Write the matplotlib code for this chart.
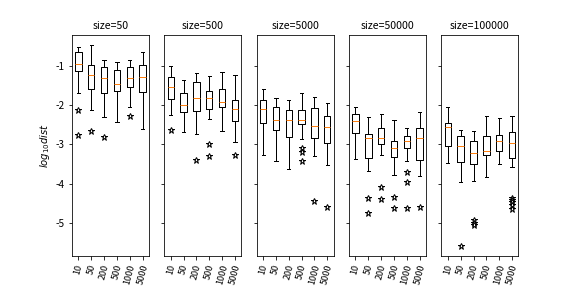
import matplotlib
matplotlib.use("Agg")
import matplotlib.pyplot as plt

plt.rcParams['font.family'] = ['Noto Sans CJK SC', 'DejaVu Sans']
plt.rcParams['axes.unicode_minus'] = False

sizes = ["size=50", "size=500", "size=5000", "size=50000", "size=100000"]
tick_labels = ["10", "50", "200", "500", "1000", "5000"]

# per panel: whisker high, q3, median, q1, whisker low, fliers
whishi_50 = [-0.51, -0.46, -0.84, -0.91, -0.85, -0.65]
q3_50 = [-0.64, -0.97, -1.03, -1.11, -1.03, -0.97]
med_50 = [-0.96, -1.22, -1.32, -1.45, -1.32, -1.28]
q1_50 = [-1.14, -1.58, -1.70, -1.63, -1.53, -1.66]
whislo_50 = [-1.68, -2.12, -2.30, -2.42, -2.04, -2.61]
fliers_50 = [[-2.12, -2.77], [-2.66], [-2.80], [], [-2.27], []]

whishi_500 = [-1.01, -1.37, -1.19, -1.26, -1.16, -1.22]
q3_500 = [-1.29, -1.68, -1.40, -1.63, -1.58, -1.86]
med_500 = [-1.55, -1.99, -1.81, -1.81, -1.91, -2.09]
q1_500 = [-1.84, -2.17, -2.15, -2.09, -2.04, -2.40]
whislo_500 = [-2.25, -2.68, -2.74, -2.35, -2.66, -2.94]
fliers_500 = [[-2.63], [], [-3.40], [-2.99, -3.30], [], [-3.28]]

whishi_5000 = [-1.59, -1.81, -1.86, -1.68, -1.78, -1.95]
q3_5000 = [-1.86, -2.04, -2.12, -2.12, -2.07, -2.28]
med_5000 = [-2.09, -2.38, -2.38, -2.38, -2.53, -2.56]
q1_5000 = [-2.46, -2.64, -2.82, -2.48, -2.84, -2.97]
whislo_5000 = [-3.26, -3.41, -3.62, -2.87, -3.29, -3.52]
fliers_5000 = [[], [], [], [-3.08, -3.18, -3.41], [-4.45], [-4.60]]

whishi_50000 = [-2.04, -2.30, -2.22, -2.38, -2.59, -2.17]
q3_50000 = [-2.22, -2.74, -2.59, -2.90, -2.79, -2.59]
med_50000 = [-2.40, -2.84, -2.84, -3.10, -2.90, -2.84]
q1_50000 = [-2.72, -3.34, -3.00, -3.31, -3.10, -3.39]
whislo_50000 = [-3.36, -3.67, -3.28, -3.78, -3.41, -3.80]
fliers_50000 = [[], [-4.35, -4.75], [-4.08, -4.39], [-4.34, -4.61],
                [-3.69, -3.95, -4.61], [-4.58]]

whishi_100000 = [-2.04, -2.64, -2.66, -2.28, -2.33, -2.28]
q3_100000 = [-2.46, -2.79, -2.92, -2.79, -2.77, -2.69]
med_100000 = [-2.56, -3.05, -3.21, -3.16, -2.92, -2.97]
q1_100000 = [-3.05, -3.44, -3.49, -3.28, -3.16, -3.34]
whislo_100000 = [-3.47, -3.96, -3.93, -3.82, -3.49, -3.57]
fliers_100000 = [[], [-5.59], [-4.93, -4.99, -5.05], [], [],
                 [-4.36, -4.42, -4.47, -4.54, -4.63]]

panels = [
    (whishi_50, q3_50, med_50, q1_50, whislo_50, fliers_50),
    (whishi_500, q3_500, med_500, q1_500, whislo_500, fliers_500),
    (whishi_5000, q3_5000, med_5000, q1_5000, whislo_5000, fliers_5000),
    (whishi_50000, q3_50000, med_50000, q1_50000, whislo_50000, fliers_50000),
    (whishi_100000, q3_100000, med_100000, q1_100000, whislo_100000, fliers_100000),
]

fig, axes = plt.subplots(1, 5, figsize=(8, 4), dpi=72, sharey=True)
for ax, title, (hi, q3, med, q1, lo, fl) in zip(axes, sizes, panels):
    stats = []
    for i in range(len(tick_labels)):
        stats.append(dict(whishi=hi[i], q3=q3[i], med=med[i], q1=q1[i],
                          whislo=lo[i], fliers=fl[i], label=tick_labels[i]))
    ax.bxp(stats, showfliers=True,
           flierprops=dict(marker='*', markerfacecolor='white',
                           markeredgecolor='black', markersize=6.5))
    ax.set_title(title, fontsize=10.5)
    ax.tick_params(axis='x', labelrotation=75, labelsize=9)
    for lab in ax.get_xticklabels():
        lab.set_fontstyle('italic')
axes[0].set_ylabel(r"$log_{10}dist$")
fig.savefig("out.png")
